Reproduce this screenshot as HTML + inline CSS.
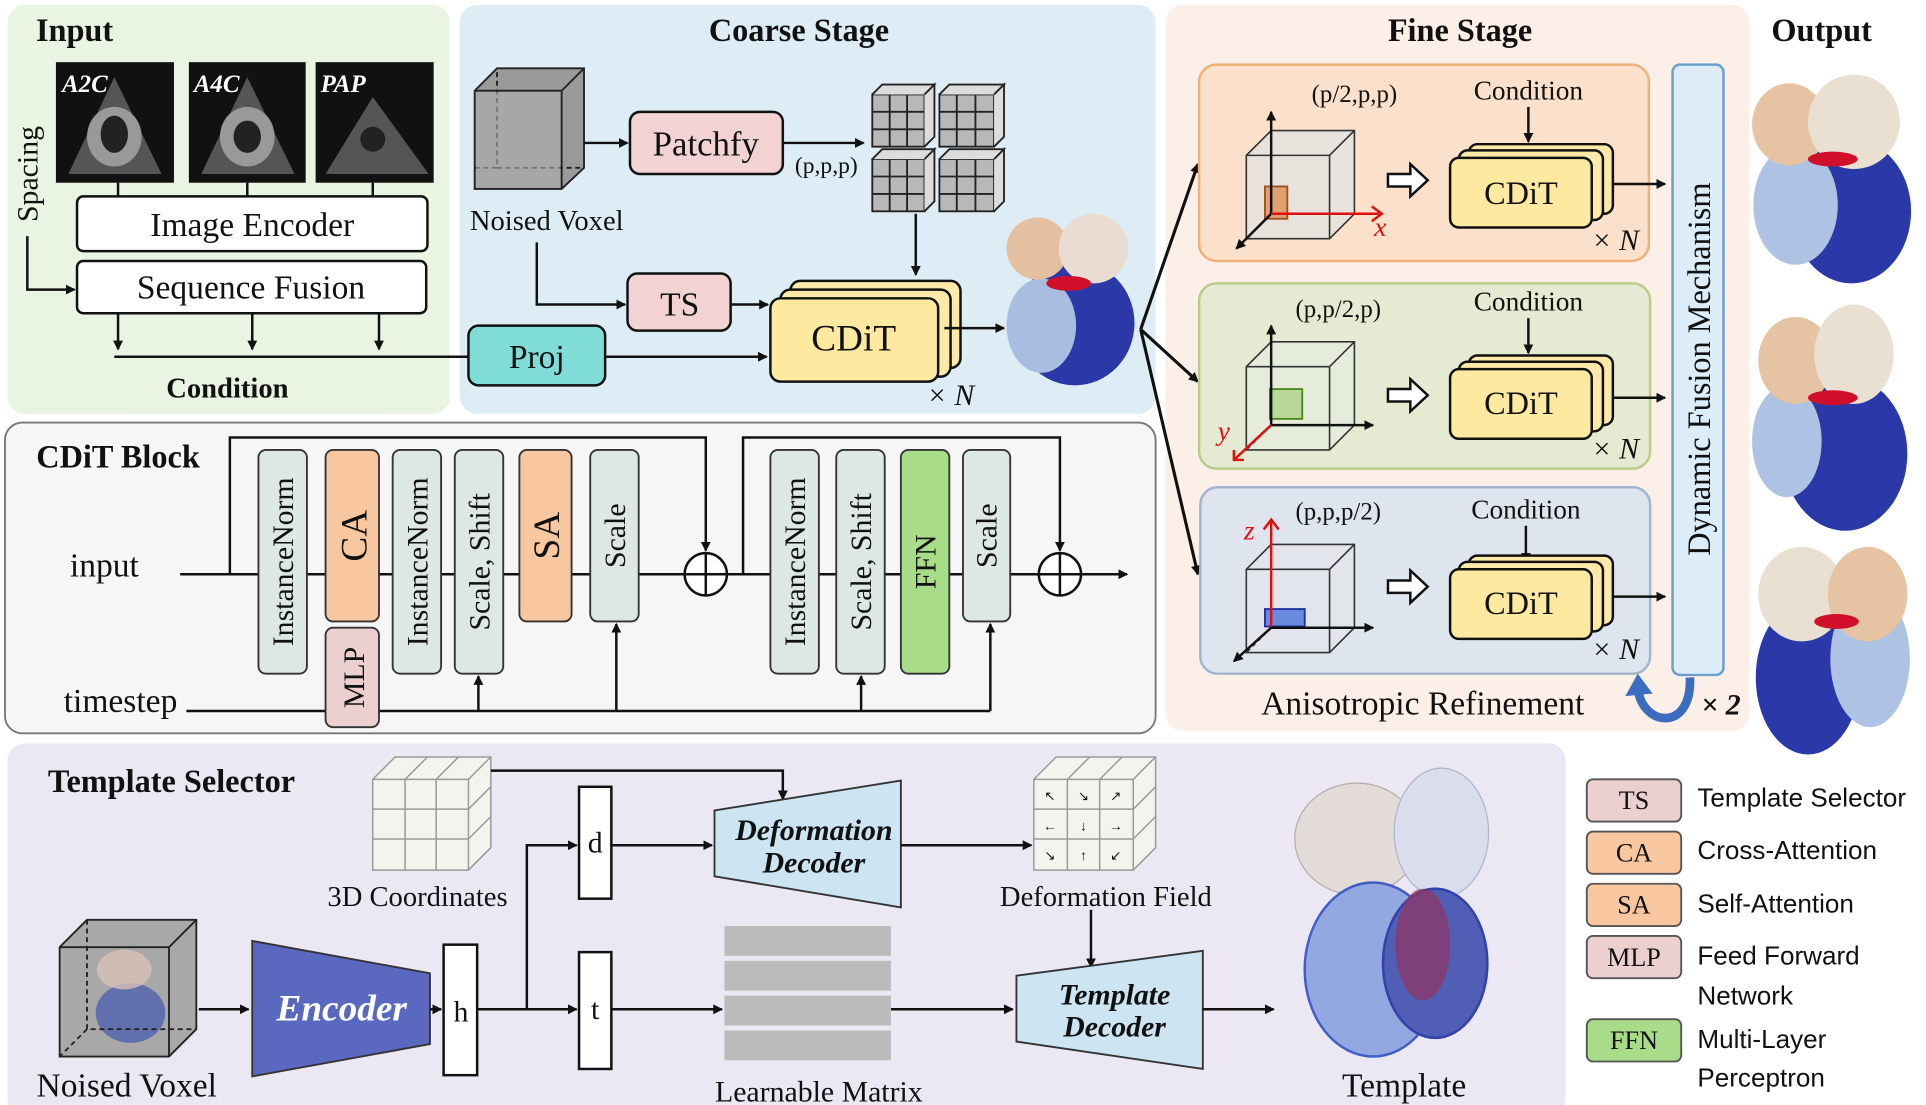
<!DOCTYPE html>
<html><head><meta charset="utf-8"><style>
html,body{margin:0;padding:0;background:#fff;}
svg{display:block;}
text{font-family:"Liberation Serif",serif;fill:#111;}
.s text, text.s{font-family:"Liberation Sans",sans-serif;}
.b{font-weight:bold;}
</style></head><body>
<svg width="1926" height="1105" viewBox="0 0 1550 889" preserveAspectRatio="none" xmlns="http://www.w3.org/2000/svg">
<defs>
<marker id="a" markerWidth="8" markerHeight="8" refX="7" refY="4" orient="auto" markerUnits="userSpaceOnUse"><path d="M0,0 L8,4 L0,8 z" fill="#111"/></marker>
</defs>
<g stroke="#111" stroke-width="2" fill="none">
<rect x="6" y="4" width="356" height="329" rx="14" fill="#e9f4e2" stroke="none"/>
<rect x="370" y="4" width="560" height="329" rx="14" fill="#deedf5" stroke="none"/>
<rect x="938" y="4" width="470" height="584" rx="14" fill="#fcefe7" stroke="none"/>
<rect x="4" y="340" width="926" height="250" rx="14" fill="#f6f6f6" stroke="#777" stroke-width="1.5"/>
<rect x="6" y="598" width="1254" height="299" rx="14" fill="#ebe8f3" stroke="none"/>
</g>
<text x="60" y="33" font-size="26" class="b" text-anchor="middle">Input</text>
<text x="643" y="33" font-size="26" class="b" text-anchor="middle">Coarse Stage</text>
<text x="1175" y="33" font-size="26" class="b" text-anchor="middle">Fine Stage</text>
<text x="1466" y="33" font-size="26" class="b" text-anchor="middle">Output</text>
<text x="95" y="376" font-size="26" class="b" text-anchor="middle">CDiT Block</text>
<text x="138" y="637" font-size="26" class="b" text-anchor="middle">Template Selector</text>

<!-- Input panel -->
<g>
<rect x="45" y="50" width="95" height="97" fill="#111"/>
<rect x="152" y="50" width="94" height="97" fill="#111"/>
<rect x="254" y="50" width="95" height="97" fill="#111"/>
<path d="M55,140 L92,62 L130,140 z" fill="#555"/><ellipse cx="92" cy="110" rx="22" ry="24" fill="#999"/><ellipse cx="92" cy="108" rx="11" ry="15" fill="#222"/>
<path d="M162,140 L199,62 L237,140 z" fill="#555"/><ellipse cx="199" cy="110" rx="22" ry="24" fill="#999"/><ellipse cx="199" cy="110" rx="11" ry="13" fill="#222"/>
<path d="M262,140 L300,78 L345,140 z" fill="#555"/><circle cx="300" cy="112" r="10" fill="#222"/>
<text x="50" y="74" font-size="20" font-style="italic" class="b" style="fill:#fff">A2C</text>
<text x="156" y="74" font-size="20" font-style="italic" class="b" style="fill:#fff">A4C</text>
<text x="258" y="74" font-size="20" font-style="italic" class="b" style="fill:#fff">PAP</text>
</g>
<g stroke="#111" stroke-width="2" fill="none">
<line x1="95" y1="147" x2="95" y2="158"/><line x1="199" y1="147" x2="199" y2="158"/><line x1="300" y1="147" x2="300" y2="158"/>
<rect x="62" y="158" width="282" height="44" rx="5" fill="#fff"/>
<rect x="62" y="210" width="281" height="42" rx="5" fill="#fff"/>
<path d="M22,190 L22,233 L60,233" marker-end="url(#a)"/>
<line x1="95" y1="252" x2="95" y2="281" marker-end="url(#a)"/>
<line x1="203" y1="252" x2="203" y2="281" marker-end="url(#a)"/>
<line x1="305" y1="252" x2="305" y2="281" marker-end="url(#a)"/>
<line x1="92" y1="287" x2="378" y2="287"/>
</g>
<text x="203" y="190" font-size="27" text-anchor="middle">Image Encoder</text>
<text x="202" y="240" font-size="27" text-anchor="middle">Sequence Fusion</text>
<text x="30" y="140" font-size="24" text-anchor="middle" transform="rotate(-90 30 140)">Spacing</text>
<text x="183" y="320" font-size="23" class="b" text-anchor="middle">Condition</text>

<!-- Coarse stage -->
<g stroke="#222" stroke-width="1.5">
<path d="M382,73 L400,55 L470,55 L470,135 L452,152 L382,152 z" fill="#9a9a9a"/>
<path d="M382,73 L452,73 L470,55 M452,73 L452,152" fill="none"/>
<path d="M382,135 L400,135 L400,55 M400,135 L470,135" fill="none" stroke-dasharray="4,3"/>
</g>
<rect x="383" y="74" width="68" height="77" fill="#b0b0b0" opacity="0.6"/>
<text x="440" y="185" font-size="23" text-anchor="middle">Noised Voxel</text>
<g stroke="#111" stroke-width="2" fill="none">
<line x1="470" y1="115" x2="505" y2="115" marker-end="url(#a)"/>
<rect x="507" y="90" width="123" height="50" rx="8" fill="#f2d2d2"/>
<line x1="630" y1="115" x2="695" y2="115" marker-end="url(#a)"/>
<line x1="737" y1="172" x2="737" y2="221" marker-end="url(#a)"/>
<rect x="505" y="220" width="83" height="46" rx="8" fill="#f2d2d2"/>
<path d="M432,195 L432,245 L503,245" marker-end="url(#a)"/>
<line x1="588" y1="245" x2="618" y2="245" marker-end="url(#a)"/>
<rect x="377" y="262" width="110" height="48" rx="8" fill="#7fdcd6"/>
<line x1="487" y1="287" x2="617" y2="287" marker-end="url(#a)"/>
<rect x="636" y="226" width="137" height="70" rx="8" fill="#fde9a8"/>
<rect x="628" y="233" width="137" height="70" rx="8" fill="#fde9a8"/>
<rect x="620" y="240" width="135" height="67" rx="8" fill="#fde9a0"/>
<line x1="760" y1="264" x2="808" y2="264" marker-end="url(#a)"/>
</g>
<g fill="#b8b8b8" stroke="#222" stroke-width="1.5">
<rect x="702" y="76" width="42" height="42"/><rect x="756" y="76" width="44" height="42"/>
<rect x="702" y="128" width="42" height="42"/><rect x="756" y="128" width="44" height="42"/>
<path d="M702,76 L710,68 L752,68 L744,76 M744,76 L752,68 L752,110 L744,118" fill="#ddd"/>
<path d="M756,76 L764,68 L808,68 L800,76 M800,76 L808,68 L808,110 L800,118" fill="#ddd"/>
<path d="M702,128 L710,120 L752,120 L744,128 M744,128 L752,120 L752,162 L744,170" fill="#ddd"/>
<path d="M756,128 L764,120 L808,120 L800,128 M800,128 L808,120 L808,162 L800,170" fill="#ddd"/>
<path d="M716,76 V118 M730,76 V118 M702,90 H744 M702,104 H744 M770,76 V118 M785,76 V118 M756,90 H800 M756,104 H800 M716,128 V170 M730,128 V170 M702,142 H744 M702,156 H744 M770,128 V170 M785,128 V170 M756,142 H800 M756,156 H800" fill="none"/>
</g>
<text x="568" y="125" font-size="28" text-anchor="middle">Patchfy</text>
<text x="665" y="139" font-size="19" text-anchor="middle">(p,p,p)</text>
<text x="547" y="254" font-size="27" text-anchor="middle">TS</text>
<text x="432" y="296" font-size="27" text-anchor="middle">Proj</text>
<text x="687" y="282" font-size="30" text-anchor="middle">CDiT</text>
<text x="765" y="326" font-size="24" text-anchor="middle" font-style="italic">× N</text>
<g>
<ellipse cx="865" cy="260" rx="48" ry="50" fill="#2a38a8"/>
<ellipse cx="838" cy="262" rx="28" ry="38" fill="#a9bde0"/>
<ellipse cx="835" cy="200" rx="25" ry="25" fill="#e4c0a0"/>
<ellipse cx="880" cy="200" rx="28" ry="28" fill="#e8ddd0"/>
<ellipse cx="860" cy="228" rx="18" ry="6" fill="#d0102a"/>
</g>

<!-- Fine stage -->
<g stroke="#111" stroke-width="2.5" fill="none">
<line x1="918" y1="265" x2="964" y2="132" marker-end="url(#a)"/>
<line x1="918" y1="265" x2="964" y2="307" marker-end="url(#a)"/>
<line x1="918" y1="265" x2="964" y2="462" marker-end="url(#a)"/>
</g>
<rect x="965" y="52" width="362" height="158" rx="14" fill="#fbe1cb" stroke="#efb07a" stroke-width="2"/>
<rect x="965" y="228" width="363" height="149" rx="14" fill="#e4ebd2" stroke="#b9cc8a" stroke-width="2"/>
<rect x="966" y="392" width="362" height="150" rx="14" fill="#dfe5ee" stroke="#a2b5cc" stroke-width="2"/>
<rect x="1346" y="52" width="41" height="491" rx="6" fill="#dcecf8" stroke="#6aa0cc" stroke-width="2"/>
<text x="1376" y="297" font-size="26" text-anchor="middle" transform="rotate(-90 1376 297)">Dynamic Fusion Mechanism</text>
<text x="1145" y="575" font-size="27" text-anchor="middle">Anisotropic Refinement</text>
<path d="M1360,545 C1362,590 1320,585 1318,552" fill="none" stroke="#3a6cc0" stroke-width="7"/>
<path d="M1308,560 L1318,542 L1330,558 z" fill="#3a6cc0"/>
<text x="1385" y="575" font-size="24" font-style="italic" class="b" text-anchor="middle">× 2</text>

<g stroke="#333" stroke-width="1.3" fill="none">
<path d="M1003,125 L1023,105 L1090,105 L1090,172 L1070,192 L1003,192 z" fill="#e8e2dc"/>
<path d="M1003,125 L1070,125 L1090,105 M1070,125 L1070,192"/>
<path d="M1023,105 L1023,172 L1090,172 M1023,172 L1003,192" stroke-dasharray="3,3"/>
<path d="M1003,295 L1023,275 L1090,275 L1090,342 L1070,362 L1003,362 z" fill="#e6ecdc"/>
<path d="M1003,295 L1070,295 L1090,275 M1070,295 L1070,362"/>
<path d="M1023,275 L1023,342 L1090,342 M1023,342 L1003,362" stroke-dasharray="3,3"/>
<path d="M1003,458 L1023,438 L1090,438 L1090,505 L1070,525 L1003,525 z" fill="#e2e6ec"/>
<path d="M1003,458 L1070,458 L1090,438 M1070,458 L1070,525"/>
<path d="M1023,438 L1023,505 L1090,505 M1023,505 L1003,525" stroke-dasharray="3,3"/>
</g>
<rect x="1018" y="150" width="18" height="26" fill="#e0a070" stroke="#a05020" stroke-width="1.5"/>
<rect x="1022" y="313" width="26" height="24" fill="#b8d898" stroke="#4a8a20" stroke-width="1.5"/>
<rect x="1018" y="490" width="32" height="14" fill="#6a8ae0" stroke="#2030a0" stroke-width="1.5"/>
<g stroke-width="2" fill="none">
<line x1="1023" y1="172" x2="1023" y2="90" stroke="#111" marker-end="url(#a)"/>
<line x1="1023" y1="172" x2="995" y2="200" stroke="#111" marker-end="url(#a)"/>
<line x1="1023" y1="172" x2="1110" y2="172" stroke="#e01010"/>
<line x1="1023" y1="342" x2="1023" y2="262" stroke="#111" marker-end="url(#a)"/>
<line x1="1023" y1="342" x2="1105" y2="342" stroke="#111" marker-end="url(#a)"/>
<line x1="1023" y1="342" x2="993" y2="370" stroke="#e01010"/>
<line x1="1023" y1="505" x2="1023" y2="420" stroke="#e01010"/>
<line x1="1023" y1="505" x2="1105" y2="505" stroke="#111" marker-end="url(#a)"/>
<line x1="1023" y1="505" x2="993" y2="532" stroke="#111" marker-end="url(#a)"/>
</g>
<path d="M1104,166 L1112,172 L1104,178" fill="none" stroke="#e01010" stroke-width="2"/>
<path d="M993,362 L993,370 L1001,370" fill="none" stroke="#e01010" stroke-width="2"/>
<path d="M1017,426 L1023,418 L1029,426" fill="none" stroke="#e01010" stroke-width="2"/>
<text x="1106" y="190" font-size="22" font-style="italic" style="fill:#e01010">x</text>
<text x="980" y="354" font-size="22" font-style="italic" style="fill:#e01010">y</text>
<text x="1001" y="434" font-size="22" font-style="italic" style="fill:#e01010">z</text>
<text x="1090" y="82" font-size="20" text-anchor="middle">(p/2,p,p)</text>
<text x="1077" y="255" font-size="20" text-anchor="middle">(p,p/2,p)</text>
<text x="1077" y="418" font-size="20" text-anchor="middle">(p,p,p/2)</text>
<g font-size="22">
<text x="1230" y="80" text-anchor="middle">Condition</text>
<text x="1230" y="250" text-anchor="middle">Condition</text>
<text x="1228" y="417" text-anchor="middle">Condition</text>
</g>
<g stroke="#111" stroke-width="2" fill="none">
<line x1="1230" y1="86" x2="1230" y2="114" marker-end="url(#a)"/>
<line x1="1230" y1="256" x2="1230" y2="284" marker-end="url(#a)"/>
<line x1="1228" y1="423" x2="1228" y2="452" marker-end="url(#a)"/>
<rect x="1182" y="116" width="116" height="56" rx="7" fill="#fde9a8"/><rect x="1174" y="121" width="116" height="56" rx="7" fill="#fde9a8"/><rect x="1167" y="127" width="114" height="56" rx="7" fill="#fde9a0"/>
<rect x="1182" y="286" width="116" height="56" rx="7" fill="#fde9a8"/><rect x="1174" y="291" width="116" height="56" rx="7" fill="#fde9a8"/><rect x="1167" y="297" width="114" height="56" rx="7" fill="#fde9a0"/>
<rect x="1182" y="447" width="116" height="56" rx="7" fill="#fde9a8"/><rect x="1174" y="452" width="116" height="56" rx="7" fill="#fde9a8"/><rect x="1167" y="458" width="114" height="56" rx="7" fill="#fde9a0"/>
<line x1="1298" y1="148" x2="1340" y2="148" marker-end="url(#a)"/>
<line x1="1298" y1="320" x2="1340" y2="320" marker-end="url(#a)"/>
<line x1="1298" y1="480" x2="1340" y2="480" marker-end="url(#a)"/>
<path d="M1117,140 h18 v-8 l14,13 l-14,13 v-8 h-18 z" fill="#fff"/>
<path d="M1117,313 h18 v-8 l14,13 l-14,13 v-8 h-18 z" fill="#fff"/>
<path d="M1117,467 h18 v-8 l14,13 l-14,13 v-8 h-18 z" fill="#fff"/>
</g>
<g font-size="26" text-anchor="middle">
<text x="1224" y="164">CDiT</text><text x="1224" y="333">CDiT</text><text x="1224" y="494">CDiT</text>
</g>
<g font-size="24" font-style="italic" text-anchor="middle">
<text x="1300" y="201">× N</text><text x="1300" y="369">× N</text><text x="1300" y="530">× N</text>
</g>

<!-- Output hearts -->
<g>
<ellipse cx="1490" cy="170" rx="48" ry="58" fill="#2a38a8"/>
<ellipse cx="1445" cy="165" rx="34" ry="48" fill="#aec2e4"/>
<ellipse cx="1440" cy="100" rx="30" ry="33" fill="#e5c3a3"/>
<ellipse cx="1492" cy="98" rx="37" ry="38" fill="#eae0d2"/>
<ellipse cx="1475" cy="128" rx="20" ry="6" fill="#d0102a"/>
<ellipse cx="1485" cy="365" rx="50" ry="62" fill="#2a38a8"/>
<ellipse cx="1438" cy="355" rx="28" ry="45" fill="#aec2e4"/>
<ellipse cx="1445" cy="290" rx="30" ry="35" fill="#e5c3a3"/>
<ellipse cx="1492" cy="285" rx="32" ry="40" fill="#eae0d2"/>
<ellipse cx="1475" cy="320" rx="20" ry="6" fill="#d0102a"/>
<ellipse cx="1455" cy="545" rx="42" ry="62" fill="#2a38a8"/>
<ellipse cx="1505" cy="530" rx="32" ry="55" fill="#aec2e4"/>
<ellipse cx="1450" cy="478" rx="35" ry="38" fill="#eae0d2"/>
<ellipse cx="1503" cy="478" rx="32" ry="38" fill="#e5c3a3"/>
<ellipse cx="1478" cy="500" rx="18" ry="6" fill="#d0102a"/>
</g>

<!-- CDiT block -->
<text x="84" y="464" font-size="27" text-anchor="middle">input</text>
<text x="97" y="573" font-size="27" text-anchor="middle">timestep</text>
<g stroke="#111" stroke-width="2" fill="none">
<line x1="145" y1="462" x2="552" y2="462"/>
<path d="M185,462 V352 H568 V443" marker-end="url(#a)"/>
<line x1="585" y1="462" x2="836" y2="462"/>
<path d="M598,462 V352 H853 V443" marker-end="url(#a)"/>
<line x1="870" y1="462" x2="907" y2="462" marker-end="url(#a)"/>
<circle cx="568" cy="462" r="17" fill="#fff"/>
<path d="M551,462 H585 M568,445 V479"/>
<circle cx="853" cy="462" r="17" fill="#fff"/>
<path d="M836,462 H870 M853,445 V479"/>
<path d="M150,572 H797"/>
<line x1="385" y1="572" x2="385" y2="544" marker-end="url(#a)"/>
<line x1="496" y1="572" x2="496" y2="502" marker-end="url(#a)"/>
<line x1="693" y1="572" x2="693" y2="544" marker-end="url(#a)"/>
<line x1="797" y1="572" x2="797" y2="502" marker-end="url(#a)"/>
</g>
<g stroke="#333" stroke-width="1.5">
<rect x="208" y="362" width="39" height="180" rx="6" fill="#dde8e2"/>
<rect x="262" y="362" width="43" height="138" rx="6" fill="#f8c7a0"/>
<rect x="262" y="505" width="43" height="80" rx="6" fill="#ecd0d0"/>
<rect x="316" y="362" width="39" height="180" rx="6" fill="#dde8e2"/>
<rect x="366" y="362" width="39" height="180" rx="6" fill="#dde8e2"/>
<rect x="418" y="362" width="42" height="138" rx="6" fill="#f8c7a0"/>
<rect x="475" y="362" width="39" height="138" rx="6" fill="#dde8e2"/>
<rect x="620" y="362" width="39" height="180" rx="6" fill="#dde8e2"/>
<rect x="673" y="362" width="39" height="180" rx="6" fill="#dde8e2"/>
<rect x="725" y="362" width="39" height="180" rx="6" fill="#a8dc88"/>
<rect x="775" y="362" width="38" height="138" rx="6" fill="#dde8e2"/>
</g>
<g font-size="24" text-anchor="middle">
<text transform="translate(236,452) rotate(-90)">InstanceNorm</text>
<text transform="translate(295,431) rotate(-90)" font-size="30">CA</text>
<text transform="translate(293,545) rotate(-90)">MLP</text>
<text transform="translate(344,452) rotate(-90)">InstanceNorm</text>
<text transform="translate(394,452) rotate(-90)">Scale, Shift</text>
<text transform="translate(450,431) rotate(-90)" font-size="30">SA</text>
<text transform="translate(503,431) rotate(-90)">Scale</text>
<text transform="translate(648,452) rotate(-90)">InstanceNorm</text>
<text transform="translate(701,452) rotate(-90)">Scale, Shift</text>
<text transform="translate(753,452) rotate(-90)">FFN</text>
<text transform="translate(802,431) rotate(-90)">Scale</text>
</g>

<!-- Template selector -->
<g stroke="#999" stroke-width="1.2" fill="#f4f4ee">
<path d="M300,627 L318,609 L395,609 L395,682 L377,700 L300,700 z"/>
<path d="M300,627 L377,627 L395,609 M377,627 L377,700 M326,627 V700 M351,627 V700 M300,651 H377 M300,675 H377 M326,627 L344,609 M351,627 L369,609 M377,651 L395,633 M377,675 L395,657" fill="none"/>
<path d="M832,627 L850,609 L930,609 L930,682 L912,700 L832,700 z"/>
<path d="M832,627 L912,627 L930,609 M912,627 L912,700 M859,627 V700 M885,627 V700 M832,651 H912 M832,675 H912 M859,627 L877,609 M885,627 L903,609 M912,651 L930,633 M912,675 L930,657" fill="none"/>
</g>
<g class="s" font-size="11" text-anchor="middle">
<text x="845" y="644">↖</text><text x="872" y="644">↘</text><text x="898" y="644">↗</text>
<text x="845" y="668">←</text><text x="872" y="668">↓</text><text x="898" y="668">→</text>
<text x="845" y="692">↘</text><text x="872" y="692">↑</text><text x="898" y="692">↙</text>
</g>
<text x="336" y="729" font-size="23" text-anchor="middle">3D Coordinates</text>
<text x="890" y="729" font-size="23" text-anchor="middle">Deformation Field</text>
<g stroke="#222" stroke-width="1.5">
<path d="M48,762 L70,740 L158,740 L158,828 L136,850 L48,850 z" fill="#a8a8a8"/>
<ellipse cx="105" cy="815" rx="28" ry="24" fill="#5060b0" stroke="none" opacity="0.8"/>
<ellipse cx="100" cy="780" rx="22" ry="16" fill="#d8c0b8" stroke="none" opacity="0.8"/>
<path d="M48,762 L136,762 L158,740 M136,762 L136,850" fill="none"/>
<path d="M70,740 L70,828 L158,828 M70,828 L48,850" fill="none" stroke-dasharray="4,3"/>
</g>
<text x="102" y="882" font-size="27" text-anchor="middle">Noised Voxel</text>
<g stroke="#111" stroke-width="2" fill="none">
<line x1="160" y1="812" x2="200" y2="812" marker-end="url(#a)"/>
<path d="M203,757 L346,783 L346,840 L203,866 z" fill="#5a68bf" stroke="#333" stroke-width="1.5"/>
<line x1="346" y1="812" x2="355" y2="812" marker-end="url(#a)"/>
<rect x="357" y="760" width="27" height="105" fill="#fff"/>
<line x1="384" y1="812" x2="464" y2="812" marker-end="url(#a)"/>
<path d="M424,812 V680 H464" marker-end="url(#a)"/>
<rect x="466" y="633" width="26" height="90" fill="#fff"/>
<rect x="466" y="766" width="26" height="94" fill="#fff"/>
<path d="M395,620 H630 V643" marker-end="url(#a)"/>
<line x1="492" y1="680" x2="573" y2="680" marker-end="url(#a)"/>
<path d="M575,652 L725,628 L725,730 L575,705 z" fill="#cde4f2" stroke="#333" stroke-width="1.5"/>
<line x1="725" y1="680" x2="830" y2="680" marker-end="url(#a)"/>
<line x1="878" y1="732" x2="878" y2="778" marker-end="url(#a)"/>
<line x1="492" y1="812" x2="581" y2="812" marker-end="url(#a)"/>
<line x1="717" y1="812" x2="815" y2="812" marker-end="url(#a)"/>
<path d="M818,785 L968,765 L968,860 L818,838 z" fill="#cde4f2" stroke="#333" stroke-width="1.5"/>
<line x1="968" y1="812" x2="1025" y2="812" marker-end="url(#a)"/>
</g>
<g fill="#bbb">
<rect x="583" y="745" width="134" height="24"/><rect x="583" y="773" width="134" height="24"/>
<rect x="583" y="801" width="134" height="24"/><rect x="583" y="829" width="134" height="24"/>
</g>
<text x="275" y="821" font-size="30" font-style="italic" class="b" text-anchor="middle" style="fill:#fff">Encoder</text>
<text x="371" y="822" font-size="24" text-anchor="middle">h</text>
<text x="479" y="686" font-size="24" text-anchor="middle">d</text>
<text x="479" y="820" font-size="24" text-anchor="middle">t</text>
<text x="655" y="676" font-size="24" font-style="italic" class="b" text-anchor="middle">Deformation</text>
<text x="655" y="702" font-size="24" font-style="italic" class="b" text-anchor="middle">Decoder</text>
<text x="897" y="808" font-size="24" font-style="italic" class="b" text-anchor="middle">Template</text>
<text x="897" y="834" font-size="24" font-style="italic" class="b" text-anchor="middle">Decoder</text>
<text x="659" y="886" font-size="24" text-anchor="middle">Learnable Matrix</text>
<g opacity="0.9">
<ellipse cx="1092" cy="675" rx="50" ry="45" fill="#e2dad6" stroke="#b0a8a0"/>
<ellipse cx="1160" cy="670" rx="38" ry="52" fill="#d8dcec" stroke="#a8b0c8"/>
<ellipse cx="1105" cy="780" rx="55" ry="70" fill="#8aa0e0" stroke="#3050c0" stroke-width="2"/>
<ellipse cx="1155" cy="775" rx="42" ry="60" fill="#4050b0" stroke="#2030a0" stroke-width="2"/>
<ellipse cx="1145" cy="760" rx="22" ry="45" fill="#8a2050" opacity="0.7"/>
</g>
<text x="1130" y="882" font-size="27" text-anchor="middle">Template</text>

<!-- Legend -->
<g stroke="#555" stroke-width="1.5">
<rect x="1277" y="627" width="76" height="34" rx="5" fill="#ecd0d0"/>
<rect x="1277" y="669" width="76" height="34" rx="5" fill="#f8c7a0"/>
<rect x="1277" y="711" width="76" height="34" rx="5" fill="#f8c7a0"/>
<rect x="1277" y="753" width="76" height="34" rx="5" fill="#ecd0d0"/>
<rect x="1277" y="820" width="76" height="34" rx="5" fill="#a8dc88"/>
</g>
<g font-size="21" text-anchor="middle">
<text x="1315" y="651">TS</text><text x="1315" y="693">CA</text><text x="1315" y="735">SA</text><text x="1315" y="777">MLP</text><text x="1315" y="844">FFN</text>
</g>
<g font-size="21" class="s">
<text x="1366" y="649">Template Selector</text>
<text x="1366" y="691">Cross-Attention</text>
<text x="1366" y="734">Self-Attention</text>
<text x="1366" y="776">Feed Forward</text>
<text x="1366" y="808">Network</text>
<text x="1366" y="843">Multi-Layer</text>
<text x="1366" y="874">Perceptron</text>
</g>
</svg>
</body></html>
